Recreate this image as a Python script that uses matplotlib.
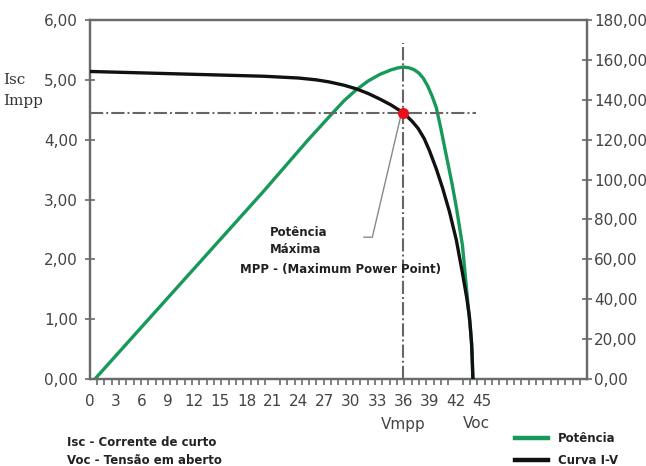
import matplotlib
matplotlib.use("Agg")
import matplotlib.pyplot as plt
from matplotlib.ticker import FixedLocator, MultipleLocator

# ---------------- data ----------------
voltage_iv = [0, 5, 10, 15, 20, 24, 26, 27.5, 29.2, 30.6, 32, 33.3, 34.6, 36,
              37, 37.7, 38.4, 39, 39.8, 40.5, 41.3, 42.1, 42.8, 43.3, 43.6, 43.85, 44.0]
current_iv = [5.14, 5.12, 5.10, 5.08, 5.06, 5.03, 5.00, 4.965, 4.91, 4.85, 4.77, 4.68,
              4.58, 4.45, 4.31, 4.19, 4.02, 3.82, 3.51, 3.20, 2.80, 2.32, 1.77, 1.35,
              1.04, 0.60, 0.00]

voltage_p = [0.6, 5, 10, 15, 20, 25, 27.5, 29.2, 30.6, 32, 33.3, 34.6, 35.4, 36, 36.6,
             37.2, 37.8, 38.3, 38.8, 39.3, 39.8, 40.3, 40.9, 41.6, 42.1, 42.8, 43.1,
             43.4, 43.7, 43.9, 44.0]
power_p = [0, 21.4, 45.7, 70, 94.3, 119.5, 131.5, 139.5, 145, 149.5, 152.7, 155, 156,
           156.4, 156.1, 155.2, 153.4, 150.8, 147, 142, 136, 126, 113, 98, 86, 67,
           53, 39, 26, 14, 0]

v_mpp = 36
i_mpp = 4.45

x_ticks = list(range(0, 46, 3))
x_ticklabels = [str(v) for v in x_ticks]
left_ticks = [0, 1, 2, 3, 4, 5, 6]
left_ticklabels = ["0,00", "1,00", "2,00", "3,00", "4,00", "5,00", "6,00"]
right_ticks = [0, 20, 40, 60, 80, 100, 120, 140, 160, 180]
right_ticklabels = ["0,00", "20,00", "40,00", "60,00", "80,00", "100,00",
                    "120,00", "140,00", "160,00", "180,00"]

# ---------------- figure ----------------
plt.rcParams['lines.scale_dashes'] = False
W, H = 646, 466
fig = plt.figure(figsize=(W / 100, H / 100), dpi=100)
L, R, B, T = 89.7, 587, 379, 20
ax = fig.add_axes([L / W, 1 - B / H, (R - L) / W, (B - T) / H])
ax2 = ax.twinx()

def fp(x, y):
    return (x / W, 1 - y / H)

green = '#17995a'
axis_col = '#6a6a6a'
lab_col = '#444444'

ax.set_xlim(0, 57.1)
ax.set_ylim(0, 6)
ax2.set_ylim(0, 180)

for a in (ax, ax2):
    for s in a.spines.values():
        s.set_color(axis_col)
        s.set_linewidth(1.6)

# guide lines
dash = (0, (9.5, 2.2, 1.4, 2.2))
ax.plot([0, 44.4], [i_mpp, i_mpp], color='#666666', lw=1.5, linestyle=dash, zorder=2)
ax.plot([v_mpp, v_mpp], [0, 5.62], color='#666666', lw=1.5, linestyle=dash, zorder=2)

# curves
pline, = ax2.plot(voltage_p, power_p, color=green, lw=2.4, solid_joinstyle='round',
                  zorder=3, label='Potência')
iline, = ax.plot(voltage_iv, current_iv, color='#111111', lw=2.4, zorder=4,
                 solid_joinstyle='round', label='Curva I-V')
ax.set_zorder(ax2.get_zorder() + 1)
ax.patch.set_visible(False)

# MPP marker
ax.plot([v_mpp], [i_mpp], 'o', color='#e8101a', markersize=8, zorder=6,
        markeredgewidth=0)

# annotation pointer
ax.plot([35.66, 32.45, 31.5], [4.36, 2.37, 2.37], color='#888888', lw=1.0, zorder=5)

# ticks
ax.xaxis.set_major_locator(FixedLocator(x_ticks))
ax.set_xticklabels(x_ticklabels)
ax.xaxis.set_minor_locator(MultipleLocator(0.84))
ax.tick_params(axis='x', which='major', length=0, labelsize=11,
               labelcolor=lab_col, pad=11)
ax.tick_params(axis='x', which='minor', direction='out', length=4, width=1.2,
               color=axis_col)
ax.set_yticks(left_ticks)
ax.set_yticklabels(left_ticklabels)
ax.tick_params(axis='y', direction='inout', length=7, width=1.2, color=axis_col,
               labelsize=11, labelcolor=lab_col, pad=5)
ax2.set_yticks(right_ticks)
ax2.set_yticklabels(right_ticklabels)
ax2.tick_params(axis='y', direction='inout', length=7, width=1.2, color=axis_col,
                labelsize=11, labelcolor=lab_col, pad=1.5)

# texts
fig.text(*fp(3, 80), 'Isc', family='DejaVu Serif', fontsize=11, color='#333333',
         ha='left', va='center')
fig.text(*fp(3, 101), 'Impp', family='DejaVu Serif', fontsize=11, color='#333333',
         ha='left', va='center')
fig.text(*fp(403, 424), 'Vmpp', fontsize=11, color=lab_col, ha='center', va='center')
fig.text(*fp(476, 424), 'Voc', fontsize=11, color=lab_col, ha='center', va='center')

bold = dict(fontsize=8.5, fontweight='bold', color='#222222', ha='left', va='center')
fig.text(*fp(270, 232), 'Potência', **bold)
fig.text(*fp(270, 250), 'Máxima', **bold)
fig.text(*fp(240, 270), 'MPP - (Maximum Power Point)', **bold)
fig.text(*fp(67, 442), 'Isc - Corrente de curto', **bold)
fig.text(*fp(67, 460), 'Voc - Tensão em aberto', **bold)

leg = fig.legend(handles=[pline, iline], labels=['Potência', 'Curva I-V'],
                 loc='upper left', bbox_to_anchor=fp(515, 432), frameon=False,
                 borderpad=0, borderaxespad=0, handlelength=2.8, handletextpad=0.85,
                 labelspacing=0.75,
                 prop=dict(size=8.5, weight='bold'))
for t in leg.get_texts():
    t.set_color('#222222')
for ln in leg.get_lines():
    ln.set_linewidth(3.2)

fig.savefig('out.png', dpi=100)
